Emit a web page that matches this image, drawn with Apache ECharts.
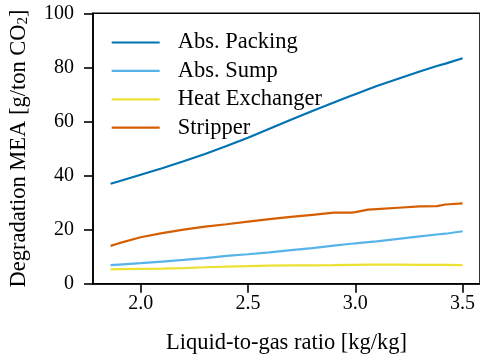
<!DOCTYPE html>
<html>
<head>
<meta charset="utf-8">
<script src="https://cdn.jsdelivr.net/npm/echarts@6/dist/echarts.min.js"></script>
<style>
  html, body { margin: 0; padding: 0; background: #fff; }
  #chart { width: 480px; height: 360px; }
</style>
</head>
<body>
<div id="chart"></div>
<script>
// Liquid-to-gas ratio [kg/kg]
const ratio = [1.86, 1.9, 2.0, 2.1, 2.2, 2.3, 2.4, 2.5, 2.6, 2.7, 2.8, 2.9, 2.98, 3.0, 3.06, 3.1, 3.2, 3.3, 3.38, 3.42, 3.5];

// Degradation of MEA per unit, g/ton CO2
const absPacking    = [37.0, 37.9, 40.3, 42.7, 45.3, 48.0, 50.9, 54.0, 57.3, 60.6, 63.9, 67.0, 69.5, 70.1, 71.9, 73.1, 75.8, 78.5, 80.5, 81.4, 83.4];
const absSump       = [6.9, 7.1, 7.6, 8.2, 8.8, 9.5, 10.3, 10.9, 11.6, 12.4, 13.2, 14.1, 14.8, 14.9, 15.4, 15.7, 16.6, 17.5, 18.2, 18.5, 19.4];
const heatExchanger = [5.3, 5.4, 5.5, 5.6, 5.8, 6.1, 6.3, 6.5, 6.7, 6.8, 6.8, 6.9, 7.0, 7.0, 7.1, 7.1, 7.1, 7.0, 7.0, 7.0, 6.9];
const stripper      = [14.0, 15.0, 17.2, 18.7, 20.0, 21.1, 22.0, 23.0, 23.9, 24.7, 25.5, 26.3, 26.3, 26.5, 27.4, 27.6, 28.1, 28.6, 28.7, 29.3, 29.7];

const xTicks = [2.0, 2.5, 3.0, 3.5];
const yTicks = [0, 20, 40, 60, 80, 100];

const seriesNames  = ['Abs. Packing', 'Abs. Sump', 'Heat Exchanger', 'Stripper'];
const seriesValues = [absPacking, absSump, heatExchanger, stripper];
const seriesColors = ['#0173b2', '#56b4e9', '#ece133', '#d55e00'];

const FONT = "'Liberation Serif', 'Times New Roman', serif";
const TICK_SIZE = 20;
const LABEL_SIZE = 22.5;

const chart = echarts.init(document.getElementById('chart'), null, { renderer: 'canvas' });

const pairs = vals => ratio.map((x, i) => [x, vals[i]]);

chart.setOption({
  animation: false,
  backgroundColor: '#ffffff',
  textStyle: { fontFamily: FONT, color: '#000' },
  grid: {
    left: 92.3, top: 13.3, width: 391.2, height: 274,
    show: true, borderColor: '#000', borderWidth: 1.6, backgroundColor: 'transparent'
  },
  legend: {
    left: 111.7, top: 31,
    padding: 0,
    orient: 'vertical',
    icon: 'rect',
    itemWidth: 48, itemHeight: 2.2, itemGap: 5.4,
    textStyle: {
      fontFamily: FONT, fontSize: LABEL_SIZE, lineHeight: LABEL_SIZE, color: '#000',
      padding: [0, 0, 0, 13]
    },
    data: seriesNames
  },
  xAxis: {
    type: 'value',
    min: 1.778, max: 3.581,
    name: 'Liquid-to-gas ratio [kg/kg]',
    nameLocation: 'middle', nameGap: 48.5,
    nameTextStyle: { fontFamily: FONT, fontSize: LABEL_SIZE, lineHeight: LABEL_SIZE, color: '#000' },
    axisLine: { show: true, lineStyle: { color: '#000', width: 1.6 } },
    axisTick: { show: true, inside: false, length: 9, lineStyle: { color: '#000', width: 1.6 }, customValues: xTicks },
    axisLabel: {
      fontFamily: FONT, fontSize: TICK_SIZE, color: '#000', margin: 10,
      customValues: xTicks,
      formatter: v => Number(v).toFixed(1)
    },
    splitLine: { show: false }
  },
  yAxis: {
    type: 'value',
    min: 0, max: 100, interval: 20,
    name: '{a|Degradation MEA [g/ton CO}{s|2}{a|]}',
    nameLocation: 'middle', nameGap: 62, nameRotate: 90,
    nameTextStyle: {
      rich: {
        a: { fontFamily: FONT, fontSize: LABEL_SIZE, color: '#000' },
        s: { fontFamily: FONT, fontSize: 15, color: '#000', verticalAlign: 'bottom', padding: [8, 0, 0, 0] }
      }
    },
    axisLine: { show: true, lineStyle: { color: '#000', width: 1.6 } },
    axisTick: { show: true, inside: false, length: 9, lineStyle: { color: '#000', width: 1.6 } },
    axisLabel: {
      fontFamily: FONT, fontSize: TICK_SIZE, color: '#000', margin: 19,
      customValues: yTicks
    },
    splitLine: { show: false }
  },
  series: seriesNames.map((name, i) => ({
    name,
    type: 'line',
    data: pairs(seriesValues[i]),
    showSymbol: false,
    symbol: 'none',
    smooth: false,
    color: seriesColors[i],
    lineStyle: { color: seriesColors[i], width: 2.2 }
  }))
});
</script>
</body>
</html>
